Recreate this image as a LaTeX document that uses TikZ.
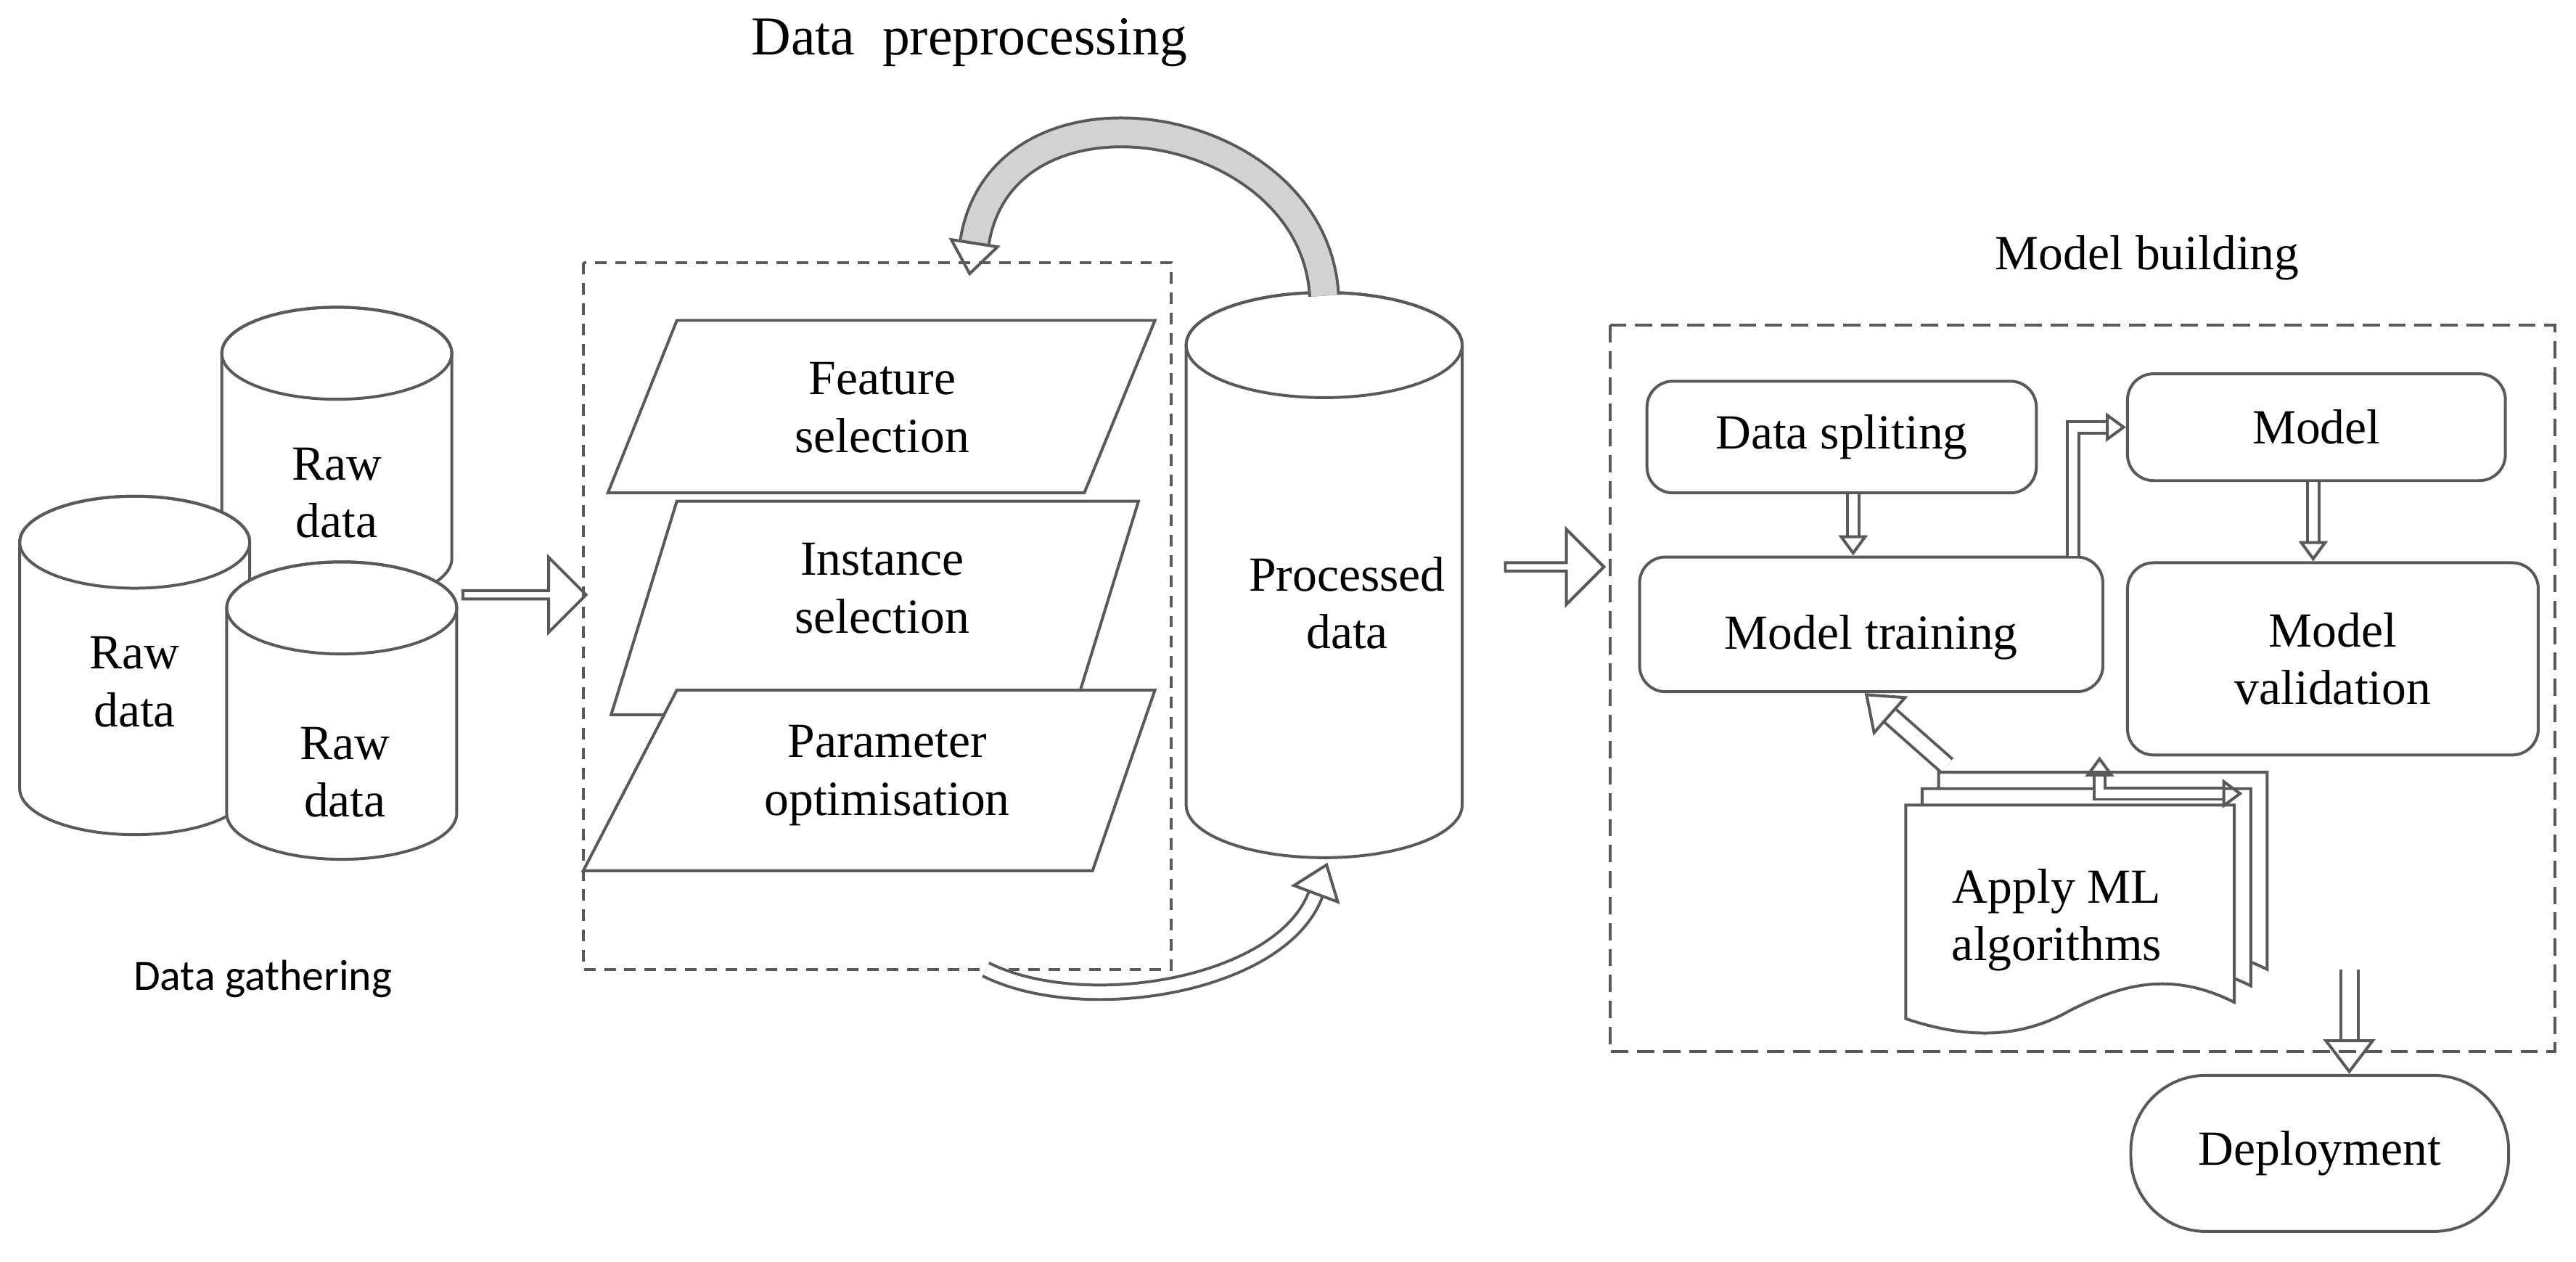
\documentclass[tikz,border=0pt]{standalone}
\usepackage{fontspec}
\setmainfont{Liberation Serif}
\newfontfamily\sansf{Carlito}
\usetikzlibrary{shapes.geometric,shapes.arrows,arrows.meta}
\newcommand\mycyl[5]{% x, ytop, ybot, halfwidth, ry
 \draw[draw=gray!70!black, line width=1pt, fill=white] (#1-#4,#2) -- (#1-#4,#3) arc[start angle=180,end angle=360,x radius=#4,y radius=-#5] -- (#1+#4,#2) arc[start angle=0,end angle=180,x radius=#4,y radius=-#5] -- cycle;
 \draw[draw=gray!70!black, line width=1pt] (#1,#2) ellipse[x radius=#4,y radius=#5];}
\begin{document}
\begin{tikzpicture}[x=0.02cm,y=-0.02cm,
  lbl/.style={font=\fontsize{17}{20}\selectfont, align=center},
  para/.style={draw=gray!70!black, line width=1pt, fill=white},
  rbox/.style={draw=gray!70!black, line width=1pt, rounded corners=9pt, fill=white, lbl},
  sarr/.style={single arrow, draw=gray!70!black, line width=1pt, fill=white, minimum height=#1, single arrow head extend=4pt, minimum width=26pt, inner sep=0pt},
  hol/.style={double=white, draw=gray!70!black, double distance=5pt, line width=1pt, -{Triangle[open,length=12pt,width=18pt]}},
  dbox/.style={draw=gray!70!black, line width=1pt, dash pattern=on 6pt off 3pt}]
\useasboundingbox (0,0) rectangle (1568,768);
% data gathering
\mycyl{205}{215}{340}{70}{28}
\node[lbl] (t1) at (205,300) {Raw\\data};
\mycyl{82}{330}{480}{70}{28}
\node[lbl] (t2) at (82,415) {Raw\\data};
\mycyl{208}{370}{495}{70}{28}
\node[lbl] (t3) at (210,470) {Raw\\data};
\node[font=\sansf\fontsize{15}{18}\selectfont] (dg) at (160,596) {Data gathering};
\node[sarr=75*0.02cm] (a1) at (318,362) {};
% preprocessing
\node[font=\fontsize{19}{22}\selectfont] (dp) at (590,26) {Data \ preprocessing};
\draw[dbox, dash pattern=on 4pt off 3pt] (355,160) rectangle (713,590);
\draw[para] (412,195) -- (703,195) -- (660,300) -- (370,300) -- cycle;
\node[lbl] (fs) at (537,248) {Feature\\selection};
\draw[para] (412,305) -- (693,305) -- (653,435) -- (372,435) -- cycle;
\node[lbl] (is) at (537,358) {Instance\\selection};
\draw[para] (412,420) -- (703,420) -- (665,530) -- (355,530) -- cycle;
\node[lbl] (po) at (540,472) {Parameter\\optimisation};
\mycyl{806}{210}{490}{84}{32}
\node[lbl] (pdt) at (820,367) {Processed\\data};
\coordinate (ctop) at (806,180);
\coordinate (ptop) at (590,168);
\draw[hol, double=gray!35, double distance=9pt] (ctop) .. controls (800,70) and (610,40) .. (ptop);
\coordinate (pbot) at (600,590);
\coordinate (cbot) at (808,525);
\draw[hol, double distance=4pt] (pbot) .. controls (660,620) and (780,600) .. (cbot);
\node[sarr=60*0.02cm] (a2) at (945,345) {};
% model building
\node[lbl] (mb) at (1307,157) {Model building};
\draw[dbox] (980,198) rectangle (1555,640);
\node[rbox, minimum width=237*0.02cm, minimum height=68*0.02cm] (ds) at (1121,266) {Data spliting};
\node[rbox, minimum width=230*0.02cm, minimum height=65*0.02cm] (m) at (1410,260) {Model};
\node[rbox, minimum width=282*0.02cm, minimum height=82*0.02cm] (mt) at (1139,380) {};
\node[lbl] (mtt) at (1139,388) {Model training};
\node[rbox, minimum width=250*0.02cm, minimum height=117*0.02cm] (mv) at (1420,401) {Model\\validation};
% documents
\foreach \d/\n in {20/ml3,10/ml2,0/ml1}{
 \draw[para] (1160+\d,490-\d) -- (1360+\d,490-\d) -- (1360+\d,610-\d)
   .. controls (1320+\d,590-\d) and (1290+\d,600-\d) .. (1260+\d,615-\d)
   .. controls (1225+\d,635-\d) and (1190+\d,630-\d) .. (1160+\d,620-\d) -- cycle;}
\node[lbl] (ml) at (1252,560) {Apply ML\\algorithms};
\node[rbox, rounded corners=26pt, minimum width=230*0.02cm, minimum height=95*0.02cm] (dep) at (1412,702) {Deployment};
\draw[hol, double distance=3pt, -{Triangle[open,length=7pt,width=10pt]}] (ds.south -| 1128,0) -- (mt.north -| 1128,0);
\draw[hol, double distance=3pt, -{Triangle[open,length=7pt,width=10pt]}] (mt.north -| 1262,0) |- (m.west);
\draw[hol, double distance=3pt, -{Triangle[open,length=7pt,width=10pt]}] (m.south -| 1408,0) -- (mv.north -| 1408,0);
\coordinate (mls) at (1185,466);
\draw[hol, double distance=5pt] (mls) -- (mt.south -| 1135,0);
\coordinate (dd) at (1365,483);
\draw[hol, double distance=3pt, {Triangle[open,length=7pt,width=10pt]}-{Triangle[open,length=7pt,width=10pt]}] (mv.south -| 1278,0) |- (dd);
\coordinate (ds1) at (1430,590);
\draw[hol, double distance=5pt] (ds1) -- (dep.north -| 1430,0);
\end{tikzpicture}
\end{document}
